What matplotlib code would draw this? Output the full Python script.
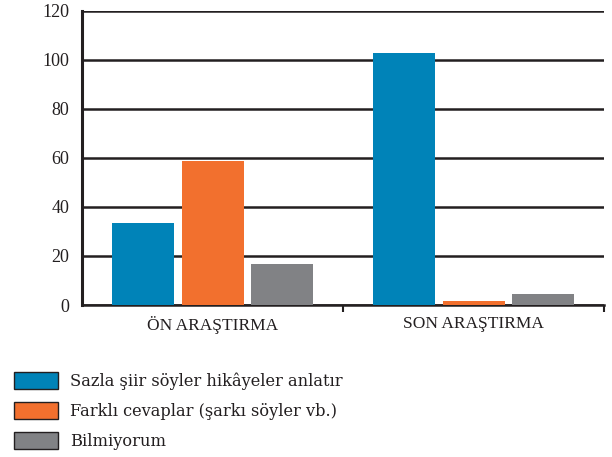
import numpy as np
import matplotlib.pyplot as plt
from matplotlib.patches import Patch

plt.rcParams['font.family'] = ['Liberation Serif', 'DejaVu Serif']

groups = ['ÖN ARAŞTIRMA', 'SON ARAŞTIRMA']
series = ['Sazla şiir söyler hikâyeler anlatır',
          'Farklı cevaplar (şarkı söyler vb.)',
          'Bilmiyorum']
values = [[33.5, 103],
          [58.6, 1.6],
          [16.7, 4.5]]
colors = ['#0083b8', '#f2702e', '#818285']
yticks = [0, 20, 40, 60, 80, 100, 120]

ink = '#231f20'
fig = plt.figure(figsize=(6.12, 4.57), dpi=100)
ax = fig.add_axes([0.134, 0.3326, 0.853, 0.6434])

x = np.arange(len(groups))
w = 0.2375
step = 0.2645
for i, (vals, c) in enumerate(zip(values, colors)):
    ax.bar(x + (i - 1) * step, vals, width=w, color=c, zorder=3)

ax.set_xlim(-0.5, 1.5)
ax.set_ylim(0, 120)
ax.set_yticks(yticks)
ax.set_xticks(x)
ax.set_xticklabels(groups, fontsize=12.5, color=ink)
ax.set_xticks([0.5, 1.5], minor=True)
ax.tick_params(axis='x', which='major', length=0, pad=8)
ax.tick_params(axis='x', which='minor', length=5, width=1.5, color=ink, direction='out')
ax.tick_params(axis='y', length=0, pad=9, labelsize=13, labelcolor=ink)
ax.yaxis.grid(True, color=ink, linewidth=1.8)
ax.set_axisbelow(True)

for s in ['top', 'right']:
    ax.spines[s].set_visible(False)
ax.spines['left'].set_linewidth(2.2)
ax.spines['left'].set_color(ink)
ax.spines['bottom'].set_linewidth(1.8)
ax.spines['bottom'].set_color(ink)

# legend under the plot, a wider face to mimic the letter-spaced original
handles = [Patch(facecolor=c, edgecolor=ink, linewidth=1) for c in colors]
fig.legend(handles, series, loc='upper left', bbox_to_anchor=(0.013, 0.2),
           frameon=False, prop={'family': 'DejaVu Serif', 'size': 11.7},
           handlelength=2.7, handleheight=1.25,
           handletextpad=0.7, labelspacing=0.72, borderaxespad=0,
           labelcolor=ink)

fig.savefig('out.png', dpi=100)
